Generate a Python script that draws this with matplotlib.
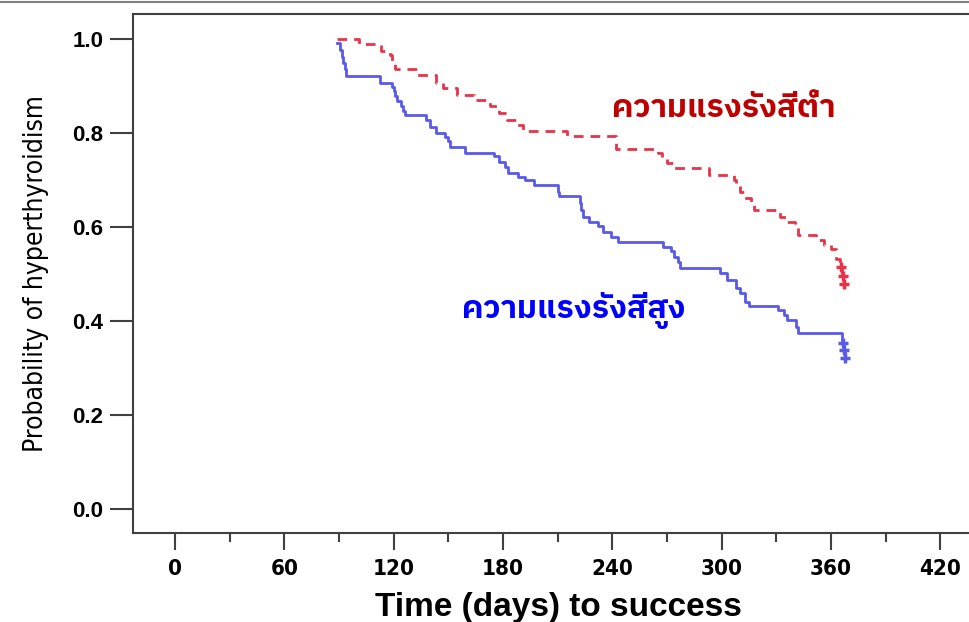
import matplotlib
matplotlib.use('Agg')
import matplotlib.pyplot as plt
from matplotlib import font_manager
from matplotlib.lines import Line2D
from fontTools.ttLib import TTFont

# Kaplan-Meier steps (days, probability)
redTimes = [89, 101, 113, 118, 119, 121, 133, 143, 147, 155, 164, 173, 178, 182, 187, 191,
            215, 242, 265, 267, 270, 274, 293, 307, 308, 310, 312, 316, 318, 332, 336, 340,
            342, 352, 356, 360, 363, 365, 366, 367]
redSurv = [1.000, 0.989, 0.975, 0.965, 0.948, 0.936, 0.923, 0.906, 0.895, 0.881, 0.870, 0.857,
           0.842, 0.828, 0.817, 0.805, 0.793, 0.766, 0.757, 0.746, 0.735, 0.725, 0.711, 0.700,
           0.689, 0.675, 0.661, 0.654, 0.636, 0.622, 0.611, 0.600, 0.583, 0.572, 0.562, 0.553,
           0.532, 0.515, 0.496, 0.478]
redCensorTimes = [365.5, 366.5, 367]
redCensorSurv = [0.515, 0.496, 0.478]

blueTimes = [89, 90.5, 91.4, 92.3, 93.2, 94, 112.5, 119, 120, 121, 122, 124, 125, 126, 138, 140,
             143, 148, 150, 151, 159, 175, 178, 181, 183, 188, 192, 197, 210, 211, 222, 223, 224,
             227, 232, 235, 239, 243, 268, 272, 274, 276, 277, 299, 303, 308, 310, 313, 315, 331,
             334, 336, 341, 342, 366, 367, 367.5]
blueSurv = [0.991, 0.977, 0.962, 0.948, 0.936, 0.921, 0.906, 0.898, 0.889, 0.879, 0.868, 0.857,
            0.847, 0.838, 0.828, 0.813, 0.799, 0.792, 0.782, 0.770, 0.757, 0.750, 0.739, 0.728,
            0.714, 0.707, 0.700, 0.689, 0.675, 0.665, 0.650, 0.636, 0.622, 0.611, 0.601, 0.590,
            0.579, 0.569, 0.557, 0.548, 0.537, 0.525, 0.512, 0.501, 0.487, 0.470, 0.459, 0.441,
            0.432, 0.423, 0.413, 0.402, 0.388, 0.374, 0.353, 0.338, 0.322]
blueCensorTimes = [366.5, 367, 367.5]
blueCensorSurv = [0.353, 0.338, 0.322]

redLabel = 'ความแรงรังสีต่ำ'
blueLabel = 'ความแรงรังสีสูง'
xTicks = [0, 60, 120, 180, 240, 300, 360, 420]
yTicks = [0.0, 0.2, 0.4, 0.6, 0.8, 1.0]


def findThaiFont():
    found = []
    for f in font_manager.fontManager.ttflist:
        try:
            font = TTFont(f.fname, fontNumber = 0, lazy = True)
            cmap = font.getBestCmap()
            if cmap and 0x0E04 in cmap and 0x0E31 in cmap:
                found.append(f.name)
        except Exception:
            pass
    found = sorted(set(found), key = lambda n: (('Thai' not in n), ('Serif' in n), n))
    return found[0] if found else 'DejaVu Sans'


thai = findThaiFont()
narrow = ['Liberation Sans Narrow', 'DejaVu Sans']
arial = ['Liberation Sans', 'DejaVu Sans']

fig = plt.figure(figsize = (9.70, 6.22), dpi = 100)
# axes runs past the right edge, like the cropped original
ax = fig.add_axes([133 / 970, 1 - 533 / 622, 862 / 970, (533 - 14) / 622])

ax.step(redTimes, redSurv, where = 'post', color = '#e8334a', lw = 2.0, dashes = (3.5, 2.5))
ax.step(blueTimes, blueSurv, where = 'post', color = '#5a5ae8', lw = 2.0)
ax.plot(redCensorTimes, redCensorSurv, ls = 'none', marker = '+', ms = 7, mew = 2.5, color = '#e8334a')
ax.plot(blueCensorTimes, blueCensorSurv, ls = 'none', marker = '+', ms = 7, mew = 2.5, color = '#5a5ae8')

ax.text(240, 0.853, redLabel, color = '#c00000', fontsize = 23, fontweight = 'bold',
        family = [thai, 'DejaVu Sans'], ha = 'left', va = 'center')
ax.text(157.5, 0.423, blueLabel, color = '#0000ff', fontsize = 23, fontweight = 'bold',
        family = [thai, 'DejaVu Sans'], ha = 'left', va = 'center')

ax.set_xlim(-23.05, 450)
ax.set_ylim(-0.051, 1.053)

ax.set_xticks(xTicks)
ax.set_xticks([30, 90, 150, 210, 270, 330, 390], minor = True)
ax.set_yticks(yTicks)
ax.set_xticklabels([str(t) for t in xTicks], family = narrow, fontstretch = 'condensed',
                   fontweight = 'bold', fontsize = 16)
ax.set_yticklabels(['%.1f' % t for t in yTicks], family = arial, fontweight = 'bold', fontsize = 16)

ax.tick_params(axis = 'y', length = 16.5, width = 1.5, color = '#404040', pad = 5)
ax.tick_params(axis = 'x', which = 'major', length = 12.5, width = 1.5, color = '#404040', pad = 6)
ax.tick_params(axis = 'x', which = 'minor', length = 6.5, width = 1.5, color = '#404040')

for side in ['left', 'bottom', 'top', 'right']:
    ax.spines[side].set_linewidth(1.5)
    ax.spines[side].set_color('#404040')

ax.set_xlabel('Time (days) to success', fontsize = 24, fontweight = 'bold', family = arial)
ax.xaxis.set_label_coords(0.493, -0.113)
ax.set_ylabel('Probability of hyperthyroidism', fontsize = 19, family = narrow, fontstretch = 'condensed')
ax.yaxis.set_label_coords(-0.098, 0.5)

# thin frame line along the top of the image
fig.add_artist(Line2D([0, 1], [1 - 1.5 / 622, 1 - 1.5 / 622], color = '#808080', lw = 1.5))

fig.savefig('out.png', dpi = 100)
